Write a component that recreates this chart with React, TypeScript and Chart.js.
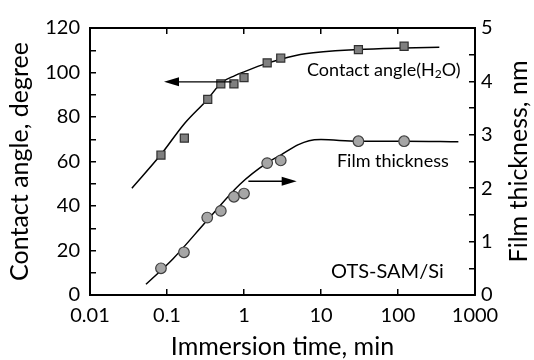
import { useEffect, useRef } from 'react';
import { Chart, registerables } from 'chart.js';

Chart.register(...registerables);

// Measured points
const angleTimes = [0.0835, 0.168, 0.338, 0.5, 0.74, 1.0, 2.0, 3.0, 30.6, 120];
const angleValues = [62.9, 70.5, 87.9, 94.9, 94.9, 97.7, 104.3, 106.5, 110.3, 111.8];
const thickTimes = [0.0835, 0.166, 0.333, 0.5, 0.74, 1.0, 2.0, 3.0, 30.6, 120];
const thickValues = [0.5, 0.8, 1.45, 1.575, 1.84, 1.9, 2.47, 2.52, 2.88, 2.88];

// Fitted curves
const angleFitTimes = [0.035, 0.0828, 0.168, 0.333, 0.513, 0.76, 1.0, 2.0, 3.0, 6.2, 30, 120, 344];
const angleFitValues = [48, 63, 77, 87.8, 95.5, 98.6, 100.3, 104.2, 106, 108.4, 110.3, 111, 111.3];
const thickFitTimes = [0.0533, 0.12, 0.333, 0.887, 1.97, 3.0, 5.0, 7.0, 10, 30, 120, 608];
const thickFitValues = [0.2, 0.68, 1.4, 2.075, 2.47, 2.62, 2.81, 2.89, 2.91, 2.88, 2.88, 2.87];

const xTickValues = [0.01, 0.1, 1, 10, 100, 1000];

// Annotation anchors (data coords)
const angleArrow = { from: 0.69, to: 0.0914, y: 95.8 };
const thickArrow = { from: 1.14, to: 4.83, y: 2.13 };
const angleLabel = { t: 6.58, y: 101.1 };
const thickLabel = { t: 16.1, y: 60.2 };
const sampleLabel = { t: 13.5, y: 10.5 };

const FONT = 'Lato';

function toXY(xs: number[], ys: number[]) {
  return xs.map((x, i) => ({ x, y: ys[i] }));
}

export default function App() {
  const ref = useRef<HTMLCanvasElement | null>(null);

  useEffect(() => {
    if (!ref.current) return;
    const decadeTicks = (s: any) => {
      s.ticks = xTickValues.map((v) => ({ value: v }));
    };

    const annot = {
      id: 'annot',
      afterDatasetsDraw(chart: any) {
        const { ctx, scales, chartArea } = chart;
        const x = scales.x, y = scales.y, y2 = scales.y2;
        ctx.save();
        const arrow = (x1: number, x2: number, yy: number) => {
          ctx.strokeStyle = '#000';
          ctx.fillStyle = '#000';
          ctx.lineWidth = 1.3;
          const dir = x2 > x1 ? 1 : -1;
          const head = 15;
          ctx.beginPath();
          ctx.moveTo(x1, yy);
          ctx.lineTo(x2 - dir * head * 0.6, yy);
          ctx.stroke();
          ctx.beginPath();
          ctx.moveTo(x2, yy);
          ctx.lineTo(x2 - dir * head, yy - 4.5);
          ctx.lineTo(x2 - dir * head, yy + 4.5);
          ctx.closePath();
          ctx.fill();
        };
        arrow(x.getPixelForValue(angleArrow.from), x.getPixelForValue(angleArrow.to), y.getPixelForValue(angleArrow.y));
        arrow(x.getPixelForValue(thickArrow.from), x.getPixelForValue(thickArrow.to), y2.getPixelForValue(thickArrow.y));

        ctx.fillStyle = '#000';
        ctx.textBaseline = 'middle';
        ctx.textAlign = 'left';
        let px = x.getPixelForValue(angleLabel.t);
        const py = y.getPixelForValue(angleLabel.y);
        ctx.font = `18px ${FONT}`;
        const p1 = 'Contact angle(H';
        ctx.fillText(p1, px, py);
        px += ctx.measureText(p1).width;
        ctx.font = `12px ${FONT}`;
        ctx.fillText('2', px, py + 4);
        px += ctx.measureText('2').width;
        ctx.font = `18px ${FONT}`;
        ctx.fillText('O)', px, py);

        ctx.font = `18px ${FONT}`;
        ctx.fillText('Film thickness', x.getPixelForValue(thickLabel.t), y.getPixelForValue(thickLabel.y));
        ctx.font = `20px ${FONT}`;
        ctx.fillText('OTS-SAM/Si', x.getPixelForValue(sampleLabel.t), y.getPixelForValue(sampleLabel.y));

        ctx.font = `25px ${FONT}`;
        ctx.textAlign = 'center';
        ctx.translate(519, (chartArea.top + chartArea.bottom) / 2);
        ctx.rotate(-Math.PI / 2);
        ctx.fillText('Film thickness, nm', 0, 0);
        ctx.restore();
      },
    };

    const tickFont = { family: FONT, size: 20 };
    const titleFont = { family: FONT, size: 25 };
    const grid = { drawOnChartArea: false, tickLength: -6, color: '#000', lineWidth: 1.5 };
    const border = { display: true, width: 2, color: '#000' };

    const chart = new Chart(ref.current, {
      type: 'scatter',
      data: {
        datasets: [
          {
            data: toXY(angleTimes, angleValues),
            xAxisID: 'x', yAxisID: 'y',
            pointStyle: 'rect', pointRadius: 5.7,
            backgroundColor: '#7f7f7f', borderColor: '#303030', borderWidth: 1.2,
          },
          {
            data: toXY(thickTimes, thickValues),
            xAxisID: 'x', yAxisID: 'y2',
            pointStyle: 'circle', pointRadius: 5.3,
            backgroundColor: '#a6a6a6', borderColor: '#404040', borderWidth: 1.2,
          },
          {
            data: toXY(angleFitTimes, angleFitValues),
            xAxisID: 'x', yAxisID: 'y',
            showLine: true, pointRadius: 0, borderColor: '#000', borderWidth: 1.5,
            cubicInterpolationMode: 'monotone',
          },
          {
            data: toXY(thickFitTimes, thickFitValues),
            xAxisID: 'x', yAxisID: 'y2',
            showLine: true, pointRadius: 0, borderColor: '#000', borderWidth: 1.5,
            cubicInterpolationMode: 'monotone',
          },
        ],
      } as any,
      options: {
        animation: false,
        responsive: false,
        devicePixelRatio: 1,
        layout: { padding: 0 },
        plugins: { legend: { display: false }, tooltip: { enabled: false } },
        scales: {
          x: {
            type: 'logarithmic', position: 'bottom', min: 0.01, max: 1000,
            afterBuildTicks: decadeTicks,
            afterFit: (s: any) => { s.height = 65; },
            ticks: { font: tickFont, color: '#000', padding: 15, maxRotation: 0, autoSkip: false, callback: (v: any) => String(v) },
            grid, border,
            title: { display: true, text: 'Immersion time, min', font: titleFont, color: '#000', padding: { top: 0, bottom: -2 } },
          },
          x2: {
            type: 'logarithmic', position: 'top', min: 0.01, max: 1000,
            afterBuildTicks: decadeTicks,
            afterFit: (s: any) => { s.height = 22; },
            ticks: { display: false },
            grid, border,
          },
          y: {
            type: 'linear', position: 'left', min: 0, max: 120,
            afterFit: (s: any) => { s.width = 90; },
            ticks: { stepSize: 10, font: tickFont, color: '#000', padding: 16, autoSkip: false, callback: (v: any) => (v % 20 === 0 ? String(v) : '') },
            grid, border,
            title: { display: true, text: 'Contact angle, degree', font: titleFont, color: '#000', padding: { top: 5, bottom: 0 } },
          },
          y2: {
            type: 'linear', position: 'right', min: 0, max: 5,
            afterFit: (s: any) => { s.width = 59; },
            ticks: { stepSize: 0.5, font: tickFont, color: '#000', padding: 12, autoSkip: false, callback: (v: any) => (Number.isInteger(v) ? String(v) : '') },
            grid, border,
          },
        },
      } as any,
      plugins: [annot],
    });
    return () => chart.destroy();
  }, []);

  return (
    <div style={{ position: 'absolute', left: 0, top: 0, width: 534, height: 360, background: '#fff' }}>
      <canvas ref={ref} width={534} height={360} />
    </div>
  );
}
